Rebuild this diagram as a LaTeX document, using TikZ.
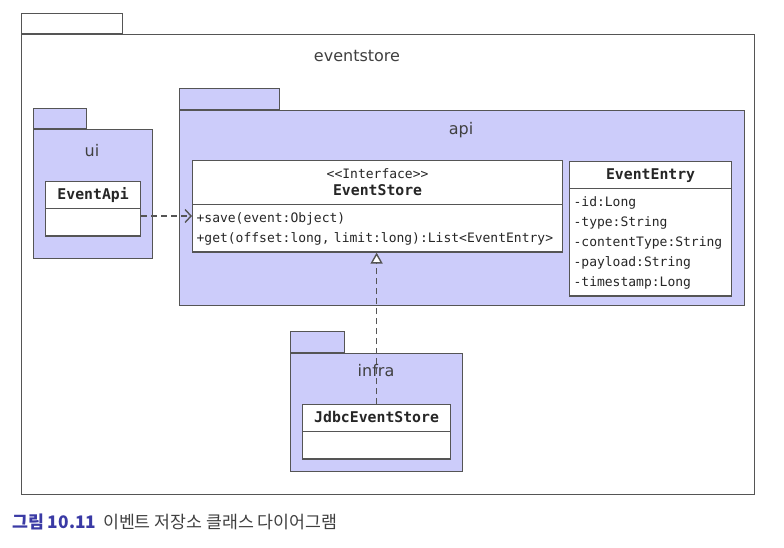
\documentclass[tikz,border=0pt]{standalone}
\usepackage{fontspec}
\setmainfont{DejaVu Sans}
\setmonofont{DejaVu Sans Mono}
\newfontfamily\krfont{Noto Sans CJK KR}
\usetikzlibrary{shapes.multipart,arrows.meta}
\definecolor{pkgfill}{RGB}{204,204,250}
\definecolor{linegray}{RGB}{85,85,85}
\definecolor{textgray}{RGB}{64,64,64}
\definecolor{capblue}{RGB}{58,58,165}
\newcommand\classtitle[1]{{\fontsize{14.8}{20}\selectfont\bfseries #1}}
\tikzset{pkg/.style={draw=linegray, line width=1.2pt, fill=pkgfill, inner sep=0pt, anchor=north west},
  pkgtab/.style={pkg, anchor=south west},
  pkgname/.style={text=textgray, inner sep=0pt, font=\fontsize{16}{18}\selectfont},
  classbox/.style={rectangle split, rectangle split parts=2, draw=linegray, line width=1.2pt, fill=white,
    anchor=north west, inner xsep=4pt, inner ysep=3pt, text=black!85, font=\ttfamily\fontsize{13}{20}\selectfont},
  dependency/.style={draw=linegray, line width=1.4pt, dash pattern=on 6pt off 4pt, -{Straight Barb[length=6pt,width=13pt]}},
  realization/.style={draw=linegray, line width=1.4pt, dash pattern=on 6pt off 4pt, -{Triangle[open,length=11pt,width=12pt,fill=white]}}}

\begin{document}
\begin{tikzpicture}[x=1pt,y=-1pt]
  \useasboundingbox (0,0) rectangle (784,547);

  \node[pkg, fill=white, minimum width=733pt, minimum height=460pt] (store) at (21,34) {};
  \node[pkgtab, fill=white, minimum width=101pt, minimum height=20pt] (storetab) at (store.north west) {};
  \node[pkgname] (storename) at (357,56) {eventstore};

  \node[pkg, minimum width=565pt, minimum height=195pt] (api) at (179,110) {};
  \node[pkgtab, minimum width=100pt, minimum height=21pt] (apitab) at (api.north west) {};
  \node[pkgname] (apiname) at (461,130) {api};

  \node[pkg, minimum width=119pt, minimum height=129pt] (ui) at (33,129) {};
  \node[pkgtab, minimum width=53pt, minimum height=20pt] (uitab) at (ui.north west) {};
  \node[pkgname] (uiname) at (92,151) {ui};

  \node[pkg, minimum width=172pt, minimum height=118pt] (infra) at (290,353) {};
  \node[pkgtab, minimum width=54pt, minimum height=21pt] (infratab) at (infra.north west) {};

  \node[classbox, text width=87pt] (eventapi) at (45,181)
    {\centering\strut\classtitle{EventApi}\par\nodepart{two}\strut};
  \node[classbox, text width=362pt] (eventstore) at (192,160)
    {\centering\strut<{}<Interface>{}>\\[-3pt]\classtitle{EventStore}\strut\par
     \nodepart{two}\strut+save(event:Object)\\+get(offset:long, limit:long):List<EventEntry>\strut};
  \node[classbox, text width=154pt] (evententry) at (569,161)
    {\centering\strut\classtitle{EventEntry}\par
     \nodepart{two}\strut-id:Long\\-type:String\\-contentType:String\\-payload:String\\-timestamp:Long\strut};
  \node[classbox, text width=140pt] (jdbc) at (302,404)
    {\centering\strut\classtitle{JdbcEventStore}\par\nodepart{two}\strut};

  \coordinate (depy) at (0,216);
  \draw[dependency] (eventapi.east |- depy) -- (eventstore.west |- depy);
  \draw[realization] (jdbc.north) -- (jdbc.north |- eventstore.south);
  \node[pkgname] (infraname) at (376,371) {infra};

  \node[anchor=west, inner sep=0pt, font=\krfont\fontsize{17.3}{20}\selectfont] (caption) at (12,522)
    {\textcolor{capblue}{\bfseries 그림 10.11}\hspace{0.4em}\textcolor{textgray}{이벤트 저장소 클래스 다이어그램}};
\end{tikzpicture}
\end{document}
